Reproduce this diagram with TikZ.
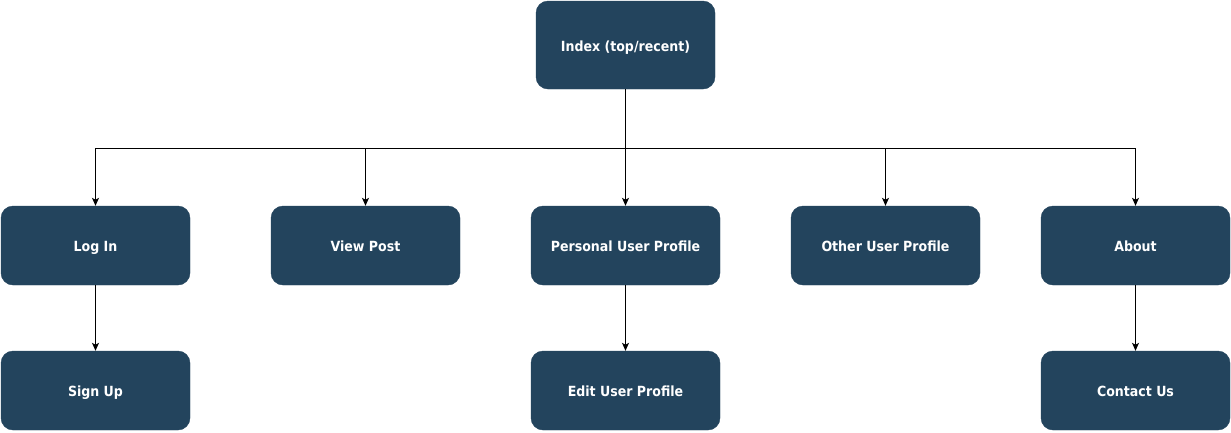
\documentclass[tikz,border=0pt]{standalone}
\usepackage{fontspec}
\setmainfont{DejaVu Sans Condensed}
\usetikzlibrary{arrows.meta}
\definecolor{boxc}{HTML}{23445D}
\tikzset{
  box/.style={rectangle, rounded corners=12pt, fill=boxc, draw=boxc, text=white,
    font=\fontsize{14}{16}\selectfont\bfseries, minimum width=189pt, minimum height=79pt, inner sep=0pt,
    text height=12pt, text depth=0pt},
  topbox/.style={box, minimum width=179pt, minimum height=88pt},
  conn/.style={draw=black, line width=1pt},
  arr/.style={conn, -{Stealth[length=8pt,width=7pt,inset=2pt]}}
}
\begin{document}
\begin{tikzpicture}[x=1pt,y=-1pt]
\useasboundingbox (0,0) rectangle (1231,432);
\node[topbox] (idx) at (625.5,45) {Index (top/recent)};
\node[box] (login) at (95.5,245.5) {Log In};
\node[box] (view) at (365.5,245.5) {View Post};
\node[box] (pers) at (625.5,245.5) {Personal User Profile};
\node[box] (other) at (885.5,245.5) {Other User Profile};
\node[box] (about) at (1135.5,245.5) {About};
\node[box] (signup) at (95.5,390.5) {Sign Up};
\node[box] (edit) at (625.5,390.5) {Edit User Profile};
\node[box] (contact) at (1135.5,390.5) {Contact Us};
\coordinate (bus) at (625.5,148.5);
\draw[conn] (idx.south) -- (bus);
\draw[arr] (bus) -| (login.north);
\draw[arr] (bus) -| (view.north);
\draw[arr] (bus) -- (pers.north);
\draw[arr] (bus) -| (other.north);
\draw[arr] (bus) -| (about.north);
\draw[arr] (login.south) -- (signup.north);
\draw[arr] (pers.south) -- (edit.north);
\draw[arr] (about.south) -- (contact.north);
\end{tikzpicture}
\end{document}
